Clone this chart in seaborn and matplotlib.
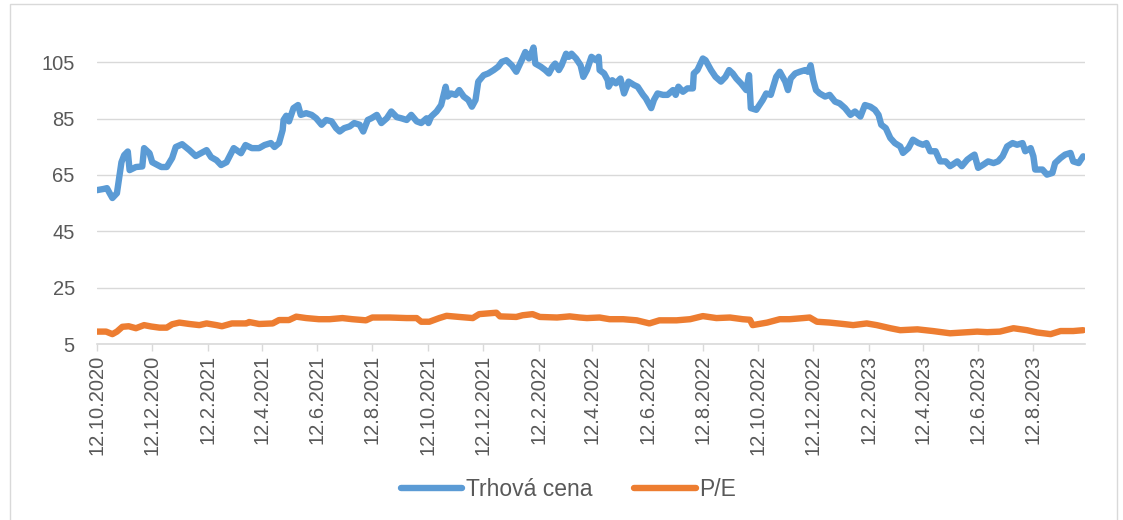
import matplotlib
matplotlib.use("Agg")
import matplotlib.pyplot as plt
from matplotlib.lines import Line2D
import seaborn as sns
import pandas as pd

# ---- data ----
start_date = "2020-10-12"
end_offset_days = 1091

price_days = [0, 7, 11, 14, 17, 22, 27, 30, 34, 36, 43, 50, 52, 58, 61, 71, 77, 83, 87, 94,
              102, 109, 121, 126, 132, 137, 143, 151, 159, 164, 171, 179, 185, 192, 196, 201,
              205, 206, 209, 212, 217, 222, 225, 231, 237, 242, 248, 253, 259, 264, 268, 273,
              279, 284, 290, 294, 299, 303, 309, 314, 320, 325, 331, 336, 342, 347, 353, 358,
              364, 366, 369, 375, 380, 385, 387, 391, 396, 400, 405, 410, 414, 418, 421, 427,
              432, 438, 443, 447, 452, 458, 463, 469, 473, 477, 479, 482, 484, 490, 495, 499,
              503, 506, 510, 513, 518, 521, 524, 529, 534, 537, 541, 546, 551, 554, 555, 560,
              564, 565, 569, 573, 578, 582, 587, 593, 597, 603, 606, 612, 615, 619, 625, 630,
              636, 639, 642, 647, 652, 658, 659, 663, 669, 672, 678, 683, 689, 694, 698, 702,
              706, 711, 717, 720, 722, 728, 735, 739, 744, 750, 754, 760, 763, 766, 771, 776,
              782, 785, 788, 791, 794, 798, 804, 809, 815, 820, 826, 832, 837, 843, 848, 854,
              859, 863, 866, 871, 876, 881, 887, 890, 896, 901, 907, 912, 916, 920, 926, 931,
              937, 942, 945, 950, 955, 961, 966, 969, 973, 979, 984, 990, 995, 1000, 1005, 1011,
              1016, 1022, 1025, 1031, 1034, 1036, 1044, 1049, 1055, 1058, 1064, 1069, 1075, 1078,
              1084, 1089]
price = [59.6, 60.0, 60.3, 58.5, 56.8, 58.5, 69.5, 72.0, 73.3, 66.7, 67.8, 68.0, 74.5, 72.7, 69.5,
         67.8, 67.8, 71.0, 74.9, 75.9, 73.8, 71.7, 73.8, 71.3, 70.2, 68.5, 69.5, 74.5, 72.7, 75.6,
         74.5, 74.5, 75.6, 76.3, 74.9, 76.3, 80.9, 84.5, 86.0, 84.0, 88.7, 89.8, 86.3, 86.9, 86.3,
         85.1, 82.8, 84.5, 84.0, 81.6, 80.4, 81.6, 82.2, 83.4, 82.8, 80.4, 84.5, 85.1, 86.3, 83.4,
         85.1, 87.5, 85.5, 85.1, 84.5, 86.3, 84.0, 83.4, 85.1, 83.4, 85.7, 87.5, 89.8, 96.3, 92.8,
         93.9, 93.4, 95.1, 92.8, 91.6, 89.2, 91.6, 98.1, 100.4, 101.0, 102.2, 103.4, 105.1, 105.7,
         103.9, 101.6, 105.7, 108.6, 106.3, 107.5, 110.2, 104.5, 103.4, 102.2, 101.0, 103.4, 104.5,
         102.2, 103.9, 108.0, 106.9, 108.0, 106.3, 103.9, 99.8, 102.2, 106.9, 105.7, 106.9, 102.2,
         101.0, 98.6, 96.3, 98.6, 97.5, 99.2, 93.9, 98.1, 96.9, 96.3, 93.4, 92.2, 88.7, 91.6, 93.9,
         93.4, 93.4, 95.1, 93.4, 96.3, 94.5, 95.7, 95.7, 101.0, 102.2, 106.3, 105.7, 102.2, 99.8,
         98.1, 99.8, 102.2, 101.0, 99.2, 97.5, 95.1, 100.4, 88.7, 88.1, 91.5, 93.9, 93.4, 99.8,
         101.6, 98.1, 95.1, 99.2, 101.0, 101.6, 102.2, 101.6, 103.9, 98.6, 95.1, 93.9, 92.8, 93.4,
         91.0, 90.4, 88.7, 86.3, 87.5, 85.7, 89.8, 89.2, 88.1, 86.3, 82.8, 81.6, 78.1, 76.3, 75.1,
         72.8, 74.5, 77.5, 76.3, 75.7, 76.3, 73.4, 73.4, 69.8, 69.8, 68.1, 68.7, 69.8, 68.1, 70.4,
         71.6, 72.2, 67.5, 68.7, 69.8, 69.2, 69.8, 71.6, 75.1, 76.3, 75.7, 76.3, 73.4, 74.5, 71.6,
         66.9, 66.9, 65.1, 65.7, 69.2, 71.0, 72.2, 72.8, 69.8, 69.2, 71.6]

pe_days = [0, 10, 17, 22, 28, 35, 43, 52, 60, 69, 77, 83, 91, 102, 113, 121, 132, 138, 149, 165,
           168, 179, 194, 201, 212, 220, 231, 245, 257, 271, 282, 297, 304, 323, 342, 353, 358,
           367, 378, 386, 400, 415, 422, 441, 445, 463, 470, 481, 489, 508, 522, 533, 541, 555,
           566, 581, 596, 610, 621, 640, 655, 669, 684, 699, 713, 721, 724, 740, 754, 765, 780,
           787, 795, 809, 824, 835, 850, 861, 876, 887, 906, 923, 942, 957, 972, 983, 997, 1012,
           1027, 1038, 1053, 1064, 1078, 1089]
pe = [9.4, 9.4, 8.5, 9.4, 11.1, 11.3, 10.6, 11.7, 11.2, 10.8, 10.8, 12.0, 12.6, 12.1, 11.7, 12.3,
      11.7, 11.3, 12.3, 12.3, 12.8, 12.1, 12.3, 13.5, 13.5, 14.7, 14.2, 13.8, 13.8, 14.2, 13.8,
      13.4, 14.4, 14.4, 14.2, 14.2, 12.9, 12.9, 14.2, 15.0, 14.6, 14.2, 15.6, 16.1, 14.8, 14.6,
      15.2, 15.6, 14.6, 14.4, 14.8, 14.4, 14.2, 14.4, 13.8, 13.8, 13.4, 12.3, 13.4, 13.4, 13.8,
      14.9, 14.2, 14.4, 13.8, 13.6, 11.7, 12.6, 13.8, 13.8, 14.2, 14.4, 12.9, 12.6, 12.1, 11.7,
      12.3, 11.7, 10.6, 9.9, 10.2, 9.6, 8.8, 9.1, 9.4, 9.2, 9.4, 10.6, 9.9, 9.1, 8.5, 9.6, 9.6, 9.9]

series_names = ["Trhová cena", "P/E"]
series_colors = ["#5B9BD5", "#ED7D31"]
xtick_labels = ["12.10.2020", "12.12.2020", "12.2.2021", "12.4.2021", "12.6.2021", "12.8.2021",
                "12.10.2021", "12.12.2021", "12.2.2022", "12.4.2022", "12.6.2022", "12.8.2022",
                "12.10.2022", "12.12.2022", "12.2.2023", "12.4.2023", "12.6.2023", "12.8.2023"]
yticks = [5, 25, 45, 65, 85, 105]

# ---- build frames ----
t0 = pd.Timestamp(start_date)
df_price = pd.DataFrame({"date": t0 + pd.to_timedelta(price_days, unit="D"), "value": price})
df_pe = pd.DataFrame({"date": t0 + pd.to_timedelta(pe_days, unit="D"), "value": pe})

sns.set_style("white")
plt.rcParams["font.family"] = ["Liberation Sans", "DejaVu Sans"]

fig = plt.figure(figsize=(11.23, 5.2), dpi=100)
ax = fig.add_axes([97 / 1123, 1 - 344 / 520, (1085 - 97) / 1123, (344 - 34) / 520])

lw = 4.6
sns.lineplot(data=df_price, x="date", y="value", ax=ax, color=series_colors[0],
             linewidth=lw, label=series_names[0], legend=False, solid_joinstyle="round",
             solid_capstyle="round")
sns.lineplot(data=df_pe, x="date", y="value", ax=ax, color=series_colors[1],
             linewidth=lw, label=series_names[1], legend=False, solid_joinstyle="round",
             solid_capstyle="round")

ax.set_xlim(t0, t0 + pd.Timedelta(days=end_offset_days))
ax.set_ylim(5, 115)
ax.set_yticks(yticks)
ax.set_yticklabels([str(v) for v in yticks])
tick_dates = [pd.to_datetime(s, format="%d.%m.%Y") for s in xtick_labels]
ax.set_xticks(tick_dates)
ax.set_xticklabels(xtick_labels, rotation=90)

ax.set_xlabel("")
ax.set_ylabel("")
ax.grid(axis="y", color="#d9d9d9", linewidth=1.0)
ax.grid(axis="x", visible=False)
ax.set_axisbelow(True)
for s in ["top", "right", "left"]:
    ax.spines[s].set_visible(False)
ax.spines["bottom"].set_color("#d9d9d9")
ax.spines["bottom"].set_linewidth(1.2)

ax.tick_params(axis="y", length=0, pad=16, labelsize=14.5, labelcolor="#595959")
ax.tick_params(axis="x", length=5, width=1, color="#d9d9d9", direction="out",
               pad=3, labelsize=14.5, labelcolor="#595959", bottom=True)

handles = [Line2D([0], [0], color=c, linewidth=lw) for c in series_colors]
fig.legend(handles, series_names, loc="center", bbox_to_anchor=(0.506, 1 - 490 / 520),
           ncol=2, frameon=False, fontsize=16.5, handlelength=2.7, columnspacing=1.8,
           handletextpad=0.15, labelcolor="#595959")

# chart area border
border = plt.Rectangle((10 / 1123, -0.02), (1117 - 10) / 1123, 1.02 - 4 / 520,
                       transform=fig.transFigure, fill=False, edgecolor="#d9d9d9", linewidth=1.0)
fig.patches.append(border)

fig.savefig("out.png", dpi=100)
